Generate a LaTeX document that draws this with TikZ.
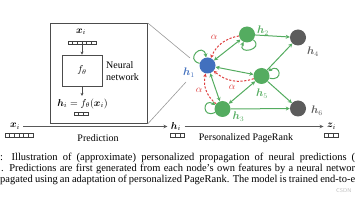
\documentclass[tikz,border=0pt]{standalone}
\usepackage{fontspec}
\setmainfont{Liberation Serif}
\usepackage{bm}
\usetikzlibrary{arrows.meta,calc}
\definecolor{ngreen}{RGB}{84,172,96}
\definecolor{nblue}{RGB}{66,112,190}
\definecolor{ngray}{RGB}{92,92,92}
\definecolor{nred}{RGB}{222,62,62}
\newcommand\vecrow[4]{%
  \node[vecbox, minimum width=#4*4.6pt] (#1) at (#2,#3) {};
  \foreach \k in {1,...,#4} \draw[vecline] ($(#1.south west)!\k/#4!(#1.south east)$) -- ($(#1.north west)!\k/#4!(#1.north east)$);
}
\begin{document}
\begin{tikzpicture}[x=1pt,y=1pt,
  every node/.style={font=\fontsize{10}{12}\selectfont},
  vecbox/.style={draw=black!75, line width=0.6pt, inner sep=0pt, minimum height=3.6pt, fill=white},
  vecline/.style={draw=black!75, line width=0.6pt},
  gnode/.style={circle, minimum size=16pt, inner sep=0pt},
  glabel/.style={font=\fontsize{10.5}{12}\selectfont},
  gedge/.style={draw=ngreen, line width=1pt, -{Stealth[length=4pt,width=4pt]}},
  gboth/.style={gedge, {Stealth[length=4pt,width=4pt]}-{Stealth[length=4pt,width=4pt]}},
  redge/.style={draw=nred, line width=1pt, dash pattern=on 2.2pt off 1.6pt, -{Stealth[length=3.5pt,width=3.5pt]}},
  flow/.style={draw=black!65, line width=0.9pt, -{Stealth[length=4pt,width=3.5pt]}},
  inflow/.style={draw=black!70, line width=0.6pt, -{Stealth[length=3pt,width=3pt]}},
  zoomline/.style={draw=black!40, line width=0.6pt},
  captext/.style={anchor=base west, inner sep=0pt, font=\fontsize{10.5}{12}\selectfont},
]
\useasboundingbox (0,0) rectangle (356,-200);

% neural network box
\node[draw=black!70, line width=0.8pt, minimum width=97pt, minimum height=100pt, anchor=north west, inner sep=0pt] (nnbox) at (50,-23) {};
\node (xin) at (81,-32) {$\bm{x}_i$};
\vecrow{xvec}{82}{-42.7}{6}
\node[draw=black!70, line width=0.8pt, minimum width=40pt, minimum height=31pt, inner sep=0pt] (f) at (82,-70.5) {$f_\theta$};
\node[align=left, anchor=west, inner sep=0pt, font=\fontsize{10}{12.5}\selectfont] (nn) at (106,-71) {Neural\\network};
\node (hin) at (82.5,-104) {$\bm{h}_i = f_\theta(\bm{x}_i)$};
\vecrow{hvec}{81}{-114}{3}
\draw[inflow] (xvec.south) -- (f.north);
\draw[inflow] (f.south) -- ++(0,-9.5) coordinate (fout);

% zoom lines
\coordinate (z1) at (190,-58);
\coordinate (z2) at (186,-82);
\draw[zoomline] (nnbox.north east) -- (z1);
\draw[zoomline] (nnbox.south east) -- (z2);

% graph nodes
\node[gnode, fill=nblue] (h1) at (207.5,-65.5) {};
\node[gnode, fill=ngreen] (h2) at (247,-34.5) {};
\node[gnode, fill=ngray] (h4) at (298,-37.5) {};
\node[gnode, fill=ngreen] (h5) at (261.5,-76) {};
\node[gnode, fill=ngreen] (h3) at (222.5,-109) {};
\node[gnode, fill=ngray] (h6) at (298,-108.5) {};

\node[glabel, text=nblue] (l1) at (189,-72.5) {$\bm{h}_1$};
\node[glabel, text=ngreen] (l2) at (263,-31) {$\bm{h}_2$};
\node[glabel, text=ngray] (l4) at (313,-51.5) {$\bm{h}_4$};
\node[glabel, text=ngreen] (l5) at (262,-93.5) {$\bm{h}_5$};
\node[glabel, text=ngreen] (l3) at (238.5,-117) {$\bm{h}_3$};
\node[glabel, text=ngray] (l6) at (317,-110.5) {$\bm{h}_6$};

% green edges
\draw[gboth] (h1) -- (h2);
\draw[gboth] (h1) -- (h5);
\draw[gboth] (h1) -- (h3);
\draw[gboth] (h3) -- (h5);
\draw[gedge] (h2) -- (h4);
\draw[gedge] (h5) -- (h4);
\draw[gedge] (h3) -- (h6);
\draw[gedge] (h5) -- (h6);

% self loops
\draw[gedge] (h1) to[out=165,in=100,min distance=16pt] (h1);
\draw[gedge] (h2) to[out=-40,in=-115,min distance=15pt] (h2);
\draw[gedge] (h5) to[out=-15,in=35,min distance=15pt] (h5);
\draw[gedge] (h3) to[out=205,in=150,min distance=15pt] (h3);

% teleport (alpha) edges
\draw[redge] (h2) to[bend right=28] (h1);
\draw[redge] (h5) to[bend left=30] (h1);
\draw[redge] (h3) to[bend left=32] (h1);
\node[text=nred] (a1) at (214,-37) {$\alpha$};
\node[text=nred] (a2) at (232,-87) {$\alpha$};
\node[text=nred] (a3) at (199,-90) {$\alpha$};

% bottom flow
\node (xbot) at (15,-126.5) {$\bm{x}_i$};
\vecrow{xbvec}{19}{-135.5}{6}
\node (hbot) at (176,-126.5) {$\bm{h}_i$};
\vecrow{hbvec}{177.5}{-135.5}{3}
\node (zbot) at (331.5,-126.5) {$\bm{z}_i$};
\vecrow{zbvec}{331}{-135.5}{3}
\draw[flow] (xbot) -- (hbot);
\draw[flow] (hbot) -- (zbot);
\node (pred) at (98,-138) {Prediction};
\node (ppr) at (246,-138) {Personalized PageRank};

% caption (cropped)
\node[captext] (c1) at (0,-160.5) {\makebox[355pt][s]{: Illustration of (approximate) personalized propagation of neural predictions (}};
\node[captext] (c2) at (1,-171.5) {\makebox[354pt][s]{. Predictions are first generated from each node's own features by a neural networ}};
\node[captext] (c3) at (0,-182.5) {\makebox[355pt][s]{pagated using an adaptation of personalized PageRank. The model is trained end-to-e}};
\node[anchor=west, inner sep=0pt, text=black!25, font=\sffamily\fontsize{5.5}{6}\selectfont] (wm) at (336,-190.5) {CSDN};
\end{tikzpicture}
\end{document}
